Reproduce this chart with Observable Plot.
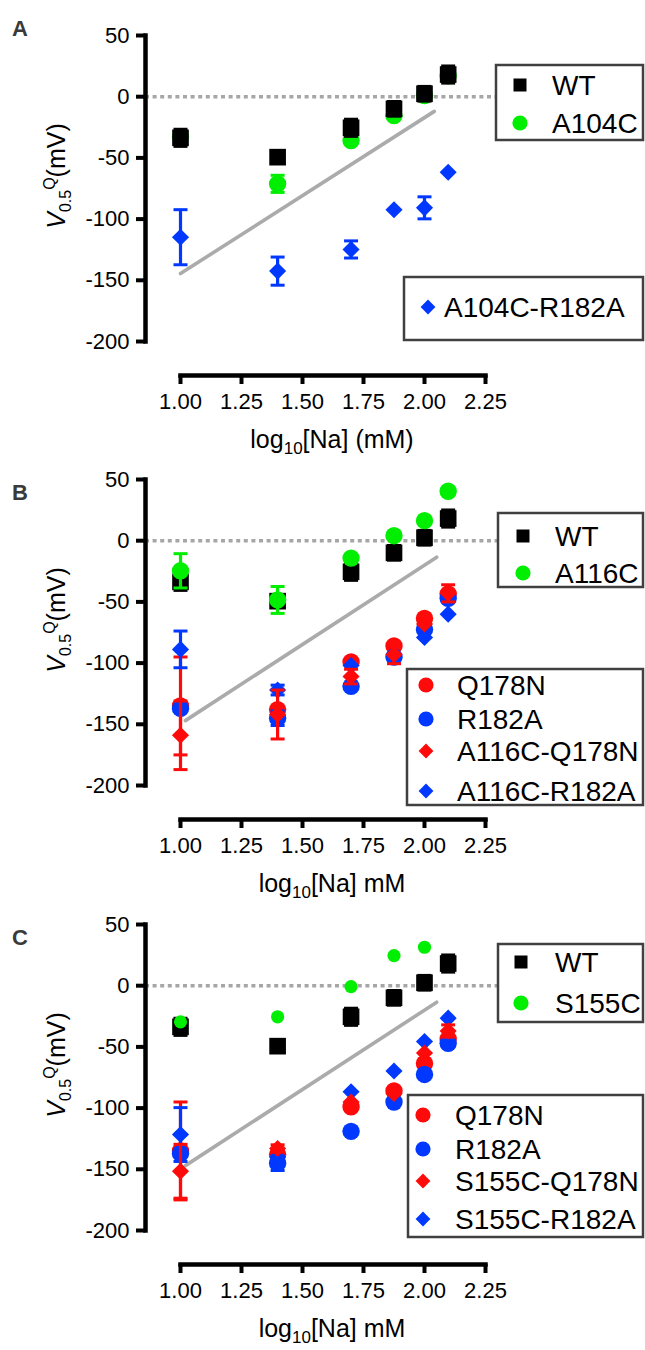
<!DOCTYPE html>
<html><head><meta charset="utf-8">
<script src="https://cdn.jsdelivr.net/npm/d3@7"></script>
<script src="https://cdn.jsdelivr.net/npm/@observablehq/plot@0.6"></script>
<style>
body{margin:0;background:#fff;font-family:"Liberation Sans",Arial,sans-serif;}
#root{position:relative;width:645px;height:1350px;overflow:hidden;background:#fff;}
.panel{position:absolute;left:0;}
</style></head><body><div id="root"></div>
<script>
// ---- data ----
const logNa = [1.0, 1.398, 1.699, 1.875, 2.0, 2.097];   // log10 of 10,25,50,75,100,125 mM
const xTicks = [1.00, 1.25, 1.50, 1.75, 2.00, 2.25];
const yTicks = [50, 0, -50, -100, -150, -200];

const wt = [-33.6, -49.4, -25.4, -9.9, 2.4, 18.1];
const wtErr = [7, 2, 7, 6, 6, 7];
const a104c = [-33, -71.2, -35.8, -15.4, 1, 17];
const a104cErr = [0, 7, 0, 0, 0, 0];
const a104cR182a = [-114.8, -142.5, -124.8, -92.4, -90.8, -61.7];
const a104cR182aErr = [22.5, 11.5, 7, 0, 9, 0];

const a116c = [-24.6, -48.4, -14.2, 4.1, 16.4, 40.4];
const a116cErr = [14, 11, 0, 0, 0, 0];
const q178n = [-135, -138, -99, -86, -63.5, -43.5];
const q178nErr = [40, 0, 0, 0, 0, 0];
const r182a = [-137, -145, -119, -95, -72.5, -47];
const r182aErr = [0, 6, 0, 0, 0, 0];
const a116cQ178n = [-159, -142, -111, -93, -68, -43];
const a116cQ178nErr = [28, 20, 6, 7.5, 0, 7];
const a116cR182a = [-88.8, -122, -102, -95, -79, -60];
const a116cR182aErr = [15, 4, 0, 0, 0, 0];

const s155c = [-29.5, -25.4, -0.8, 24.6, 31.4, null];
const s155cQ178n = [-151.6, -133, -95, -88, -55, -37];
const s155cQ178nErr = [22, 3, 0, 0, 0, 5];
const s155cR182a = [-121.6, -140, -86.6, -69.7, -45.6, -26.5];
const s155cR182aErr = [22, 0, 0, 0, 0, 0];

const fitAx = [1.0, 2.04], fitAy = [-144.5, -12];
const fitBCx = [1.02, 2.05], fitBCy = [-147, -13.5];

// ---- styles ----
const BLACK = "#000", GREEN = "#00ee00", RED = "#ff0a0a", BLUE = "#0038ff";
const styles = {
  "WT": {color: BLACK, symbol: "square", r: 9.4},
  "A104C": {color: GREEN, symbol: "circle", r: 8.7},
  "A116C": {color: GREEN, symbol: "circle", r: 8.7},
  "S155C": {color: GREEN, symbol: "circle", r: 6.6},
  "Q178N": {color: RED, symbol: "circle", r: 8.7},
  "R182A": {color: BLUE, symbol: "circle", r: 8.7},
  "A104C-R182A": {color: BLUE, symbol: "diamond2", r: 7.7},
  "A116C-Q178N": {color: RED, symbol: "diamond2", r: 7.7},
  "A116C-R182A": {color: BLUE, symbol: "diamond2", r: 7.7},
  "S155C-Q178N": {color: RED, symbol: "diamond2", r: 7.7},
  "S155C-R182A": {color: BLUE, symbol: "diamond2", r: 7.7}
};
const capSymbol = {draw(ctx, size){ const w = Math.sqrt(size/Math.PI); ctx.moveTo(-w,0); ctx.lineTo(w,0); }};

const panels = [
  {top: 0, fitX: fitAx, fitY: fitAy, xUnit: " (mM)", series: [
    ["A104C", a104c, a104cErr], ["WT", wt, wtErr], ["A104C-R182A", a104cR182a, a104cR182aErr]]},
  {top: 444, fitX: fitBCx, fitY: fitBCy, xUnit: " mM", series: [
    ["WT", wt, wtErr], ["A116C", a116c, a116cErr], ["Q178N", q178n, q178nErr], ["R182A", r182a, r182aErr],
    ["A116C-R182A", a116cR182a, a116cR182aErr], ["A116C-Q178N", a116cQ178n, a116cQ178nErr]]},
  {top: 889, fitX: fitBCx, fitY: fitBCy, xUnit: " mM", series: [
    ["WT", wt, wtErr], ["S155C", s155c, null], ["Q178N", q178n, q178nErr], ["R182A", r182a, r182aErr],
    ["S155C-R182A", s155cR182a, s155cR182aErr], ["S155C-Q178N", s155cQ178n, s155cQ178nErr]]}
];

const root = d3.select("#root");
const W = 645, H = 461;

for (const p of panels) {
  const marks = [];
  marks.push(Plot.ruleY([0], {stroke: "#a6a6a6", strokeWidth: 3.4, strokeDasharray: "4,3.6"}));
  marks.push(Plot.line(d3.zip(p.fitX, p.fitY), {x: d => d[0], y: d => d[1], stroke: "#ababab", strokeWidth: 3.6}));
  for (const [name, vals, errs] of p.series) {
    const st = styles[name];
    const rows = vals.map((v, i) => ({x: logNa[i], y: v, e: errs ? errs[i] : 0})).filter(d => d.y != null);
    const er = rows.filter(d => d.e > 0);
    marks.push(Plot.ruleX(er, {x: "x", y1: d => d.y - d.e, y2: d => d.y + d.e, stroke: st.color, strokeWidth: 3.2}));
    const caps = er.flatMap(d => [{x: d.x, y: d.y - d.e}, {x: d.x, y: d.y + d.e}]);
    marks.push(Plot.dot(caps, {x: "x", y: "y", symbol: capSymbol, r: 7, stroke: st.color, strokeWidth: 3}));
    marks.push(Plot.dot(rows, {x: "x", y: "y", symbol: st.symbol, r: st.r, fill: st.color}));
  }
  marks.push(Plot.frame({anchor: "left", insetBottom: 34, stroke: "#000", strokeWidth: 4.5}));
  marks.push(Plot.frame({anchor: "bottom", insetLeft: 35, insetRight: 14, stroke: "#000", strokeWidth: 4.5}));
  marks.push(Plot.axisY(yTicks, {anchor: "left", tickSize: 9, tickPadding: 7, stroke: "#000", strokeWidth: 4, fontSize: 22, tickFormat: d => String(d), label: null}));
  marks.push(Plot.axisX(xTicks, {anchor: "bottom", tickSize: 9, tickPadding: 9, stroke: "#000", strokeWidth: 4, fontSize: 22, tickFormat: d => d.toFixed(2), label: null}));

  const svg = Plot.plot({
    width: W, height: H,
    marginLeft: 145, marginRight: 146, marginTop: 35, marginBottom: H - 375,
    x: {domain: [1, 2.25], insetLeft: 35, insetRight: 14, axis: null},
    y: {domain: [-200, 50], insetBottom: 34, axis: null},
    style: {fontFamily: "'Liberation Sans', Arial, sans-serif", fontSize: "22px", background: "transparent", color: "#000", overflow: "visible"},
    marks
  });
  const sel = d3.select(svg).attr("class", "panel").style("position", "absolute").style("top", p.top + "px").style("left", "0px");

  // y title
  const yt = sel.append("text").attr("transform", "translate(65,176) rotate(-90)").attr("text-anchor", "middle")
    .attr("font-size", 25).attr("fill", "#000");
  yt.append("tspan").attr("font-style", "italic").text("V");
  yt.append("tspan").attr("font-size", 16).attr("dy", 6).text("0.5");
  yt.append("tspan").attr("font-size", 16).attr("dy", -16).text("Q");
  yt.append("tspan").attr("dy", 10).text("(mV)");
  // x title
  const xt = sel.append("text").attr("x", 332).attr("y", 448).attr("text-anchor", "middle").attr("font-size", 25).attr("fill", "#000");
  xt.append("tspan").text("log");
  xt.append("tspan").attr("font-size", 17).attr("dy", 6).text("10");
  xt.append("tspan").attr("dy", -6).text("[Na]" + p.xUnit);

  root.node().appendChild(svg);
}

// ---- overlay: panel letters and legends ----
const ov = root.append("svg").attr("width", W).attr("height", 1350)
  .style("position", "absolute").style("left", "0px").style("top", "0px")
  .style("font-family", "'Liberation Sans', Arial, sans-serif");

[["A", 36], ["B", 500], ["C", 945]].forEach(([t, y]) =>
  ov.append("text").attr("x", 12).attr("y", y).attr("font-size", 22).attr("font-weight", "bold").attr("fill", "#3a3a3a").text(t));

const legends = [
  {x: 496, y: 65, w: 147, h: 75, mx: 520, tx: 552, items: [["WT", 85], ["A104C", 123]]},
  {x: 404, y: 277, w: 239, h: 63, mx: 428, tx: 444, items: [["A104C-R182A", 307]]},
  {x: 498, y: 513, w: 145, h: 74, mx: 523, tx: 555, items: [["WT", 536], ["A116C", 573]]},
  {x: 407, y: 669, w: 236, h: 136, mx: 426, tx: 457, items: [["Q178N", 685], ["R182A", 719], ["A116C-Q178N", 751], ["A116C-R182A", 791]]},
  {x: 498, y: 944, w: 145, h: 78, mx: 521, tx: 555, items: [["WT", 962], ["S155C", 1003]]},
  {x: 408, y: 1095, w: 235, h: 142, mx: 423, tx: 455, items: [["Q178N", 1115], ["R182A", 1149], ["S155C-Q178N", 1181], ["S155C-R182A", 1219]]}
];
const symTypes = {square: d3.symbolSquare, circle: d3.symbolCircle, diamond2: d3.symbolDiamond2};
const legSize = {square: 13 * 13, circle: Math.PI * 7.6 * 7.6, diamond2: 140};
for (const L of legends) {
  ov.append("rect").attr("x", L.x).attr("y", L.y).attr("width", L.w).attr("height", L.h)
    .attr("fill", "#fff").attr("stroke", "#404040").attr("stroke-width", 2.5);
  for (const [name, cy] of L.items) {
    const st = styles[name];
    ov.append("path").attr("transform", `translate(${L.mx},${cy})`)
      .attr("d", d3.symbol(symTypes[st.symbol], legSize[st.symbol])()).attr("fill", st.color);
    ov.append("text").attr("x", L.tx).attr("y", cy + 10).attr("font-size", 28).attr("fill", "#000").text(name);
  }
}
</script></body></html>
